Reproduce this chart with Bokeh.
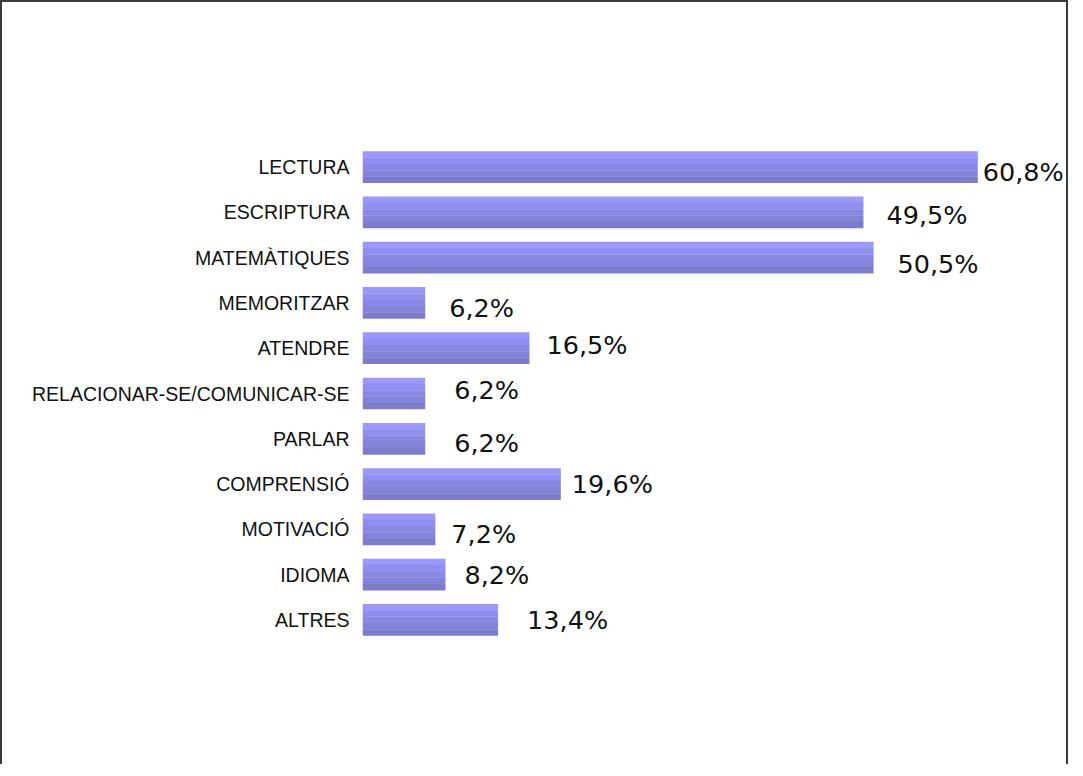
from bokeh.plotting import figure
from bokeh.models import ColumnDataSource, FactorRange, Range1d
from bokeh.transform import dodge
from bokeh.core.properties import value
from bokeh.embed import file_html
from bokeh.resources import INLINE

# ---- data (top to bottom) ----
categories = ["LECTURA", "ESCRIPTURA", "MATEMÀTIQUES", "MEMORITZAR", "ATENDRE",
              "RELACIONAR-SE/COMUNICAR-SE", "PARLAR", "COMPRENSIÓ", "MOTIVACIÓ",
              "IDIOMA", "ALTRES"]
values = [60.8, 49.5, 50.5, 6.2, 16.5, 6.2, 6.2, 19.6, 7.2, 8.2, 13.4]
labels = ["60,8%", "49,5%", "50,5%", "6,2%", "16,5%", "6,2%", "6,2%",
          "19,6%", "7,2%", "8,2%", "13,4%"]

# manual label nudges in screen pixels (labels were hand-placed in the original)
label_dx = [5, 23, 24, 24, 17, 29, 29, 11, 16, 19, 29]
label_dy = [4.5, 2.5, 6, 5.5, -3.5, -4, 4.5, 0, 5, 0, 0]

src = ColumnDataSource(dict(cat=categories, val=values, label=labels,
                            dx=label_dx, dy=label_dy))

p = figure(width=1068, height=764,
           y_range=FactorRange(*reversed(categories)),
           x_range=Range1d(0, 69.96),
           x_axis_location=None,
           output_backend="svg", toolbar_location=None,
           min_border_left=360, min_border_right=0,
           min_border_top=142, min_border_bottom=124,
           outline_line_color=None, background_fill_color="white",
           border_fill_color="white")
p.styles = {"border-left": "2px solid #3a3a3a",
            "border-top": "2px solid #3a3a3a",
            "border-right": "2px solid #3a3a3a"}

p.xgrid.visible = False
p.ygrid.visible = False

# gradient bars made of horizontal stripes (light top -> dark bottom)
stripe_colors = ["#9898fd", "#8f8fef", "#8989e3", "#8383d7", "#7c7ccb"]
bar_h = 0.695
n = len(stripe_colors)
sh = bar_h / n
for i, c in enumerate(stripe_colors):
    off = bar_h / 2 - sh / 2 - i * sh
    p.hbar(y=dodge("cat", off, range=p.y_range), left=0, right="val",
           height=sh * 1.04, fill_color=c, line_color=None, source=src)

p.text(x="val", y="cat", text="label", x_offset="dx", y_offset="dy",
       text_font=value("DejaVu Sans"), text_font_size="25.5px",
       text_color="#111111", text_align="left", text_baseline="middle",
       source=src)

ax = p.yaxis[0]
ax.axis_line_color = None
ax.major_tick_line_color = None
ax.minor_tick_line_color = None
ax.major_tick_in = 0
ax.major_tick_out = 0
ax.major_label_standoff = 13
ax.major_label_text_font = "Liberation Sans"
ax.major_label_text_font_size = "19.5px"
ax.major_label_text_color = "#111111"

open("out.html", "w").write(file_html(p, INLINE))
